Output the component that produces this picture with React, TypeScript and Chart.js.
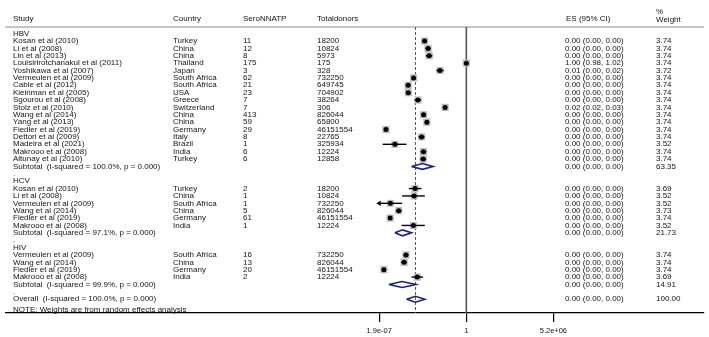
import React, { useEffect, useRef } from "react";
import { Chart, registerables } from "chart.js";
Chart.register(...registerables);

// ---------- DATA ----------
const GROUP_NAMES = ["HBV", "HCV", "HIV"];

const HBV_STUDIES = [
  "Kosan et al (2010)", "Li et al (2008)", "Lin et al (2013)", "Louisirirotchanakul et al (2011)",
  "Yoshikawa et al (2007)", "Vermeulen et al (2009)", "Cable et al (2012)", "Kleinman et al (2005)",
  "Sgourou et al (2008)", "Stolz et al (2010)", "Wang et al (2014)", "Yang et al (2013)",
  "Fiedler et al (2019)", "Dettori et al (2009)", "Madeira et al (2021)", "Makrooo et al (2008)",
  "Altunay et al (2010)",
];
const HBV_COUNTRIES = [
  "Turkey", "China", "China", "Thailand", "Japan", "South Africa", "South Africa", "USA",
  "Greece", "Switzerland", "China", "China", "Germany", "Italy", "Brazil", "India", "Turkey",
];
const HBV_SERO = [11, 12, 8, 175, 3, 62, 21, 23, 7, 7, 413, 59, 29, 8, 1, 6, 6];
const HBV_TOTAL = [18200, 10824, 5973, 175, 328, 732250, 649745, 704902, 38264, 306, 826044, 65800, 46151554, 22765, 325934, 12224, 12858];
const HBV_ES = [6.04e-4, 1.11e-3, 1.34e-3, 1.0, 9.15e-3, 8.47e-5, 3.23e-5, 3.26e-5, 1.83e-4, 2.29e-2, 5.0e-4, 8.97e-4, 6.28e-7, 3.51e-4, 3.07e-6, 4.91e-4, 4.67e-4];
const HBV_LO = [4.0e-4, 6.9e-4, 7.4e-4, 0.98, 4.9e-3, 6.6e-5, 2.1e-5, 2.2e-5, 1.0e-4, 1.6e-2, 4.5e-4, 6.9e-4, 6.1e-7, 2.0e-4, 3.5e-7, 2.9e-4, 2.8e-4];
const HBV_HI = [9.0e-4, 1.8e-3, 2.4e-3, 1.02, 1.8e-2, 1.09e-4, 4.9e-5, 4.8e-5, 3.3e-4, 3.0e-2, 5.5e-4, 1.15e-3, 6.5e-7, 6.0e-4, 2.4e-5, 8.3e-4, 7.9e-4];
const HBV_WEIGHT = [3.74, 3.74, 3.74, 3.74, 3.72, 3.74, 3.74, 3.74, 3.74, 3.74, 3.74, 3.74, 3.74, 3.74, 3.52, 3.74, 3.74];

const HCV_STUDIES = ["Kosan et al (2010)", "Li et al (2008)", "Vermeulen et al (2009)", "Wang et al (2014)", "Fiedler et al (2019)", "Makrooo et al (2008)"];
const HCV_COUNTRIES = ["Turkey", "China", "South Africa", "China", "Germany", "India"];
const HCV_SERO = [2, 1, 1, 5, 61, 1];
const HCV_TOTAL = [18200, 10824, 732250, 826044, 46151554, 12224];
const HCV_ES = [1.10e-4, 9.24e-5, 1.37e-6, 6.05e-6, 1.32e-6, 8.18e-5];
const HCV_LO = [3.65e-5, 1.11e-5, 3.0e-8, 3.6e-6, 1.2e-6, 1.0e-5];
const HCV_HI = [3.45e-4, 6.2e-4, 1.11e-5, 1.0e-5, 1.45e-6, 6.2e-4];
const HCV_WEIGHT = [3.69, 3.52, 3.52, 3.73, 3.74, 3.52];

const HIV_STUDIES = ["Vermeulen et al (2009)", "Wang et al (2014)", "Fiedler et al (2019)", "Makrooo et al (2008)"];
const HIV_COUNTRIES = ["South Africa", "China", "Germany", "India"];
const HIV_SERO = [16, 13, 20, 2];
const HIV_TOTAL = [732250, 826044, 46151554, 12224];
const HIV_ES = [2.19e-5, 1.57e-5, 4.33e-7, 1.64e-4];
const HIV_LO = [1.4e-5, 9.0e-6, 3.6e-7, 5.87e-5];
const HIV_HI = [3.4e-5, 2.6e-5, 5.2e-7, 4.59e-4];
const HIV_WEIGHT = [3.74, 3.74, 3.74, 3.69];

const SUBTOTAL_LABELS = [
  "Subtotal  (I-squared = 100.0%, p = 0.000)",
  "Subtotal  (I-squared = 97.1%, p = 0.000)",
  "Subtotal  (I-squared = 99.9%, p = 0.000)",
];
const SUBTOTAL_ES = [4.12e-4, 1.19e-5, 1.11e-5];
const SUBTOTAL_LO = [5.87e-5, 3.05e-6, 1.05e-6];
const SUBTOTAL_HI = [2.7e-3, 5.87e-5, 1.26e-4];
const SUBTOTAL_WEIGHT = [63.35, 21.73, 14.91];

const OVERALL_LABEL = "Overall  (I-squared = 100.0%, p = 0.000)";
const OVERALL_ES = 1.19e-4;
const OVERALL_LO = 2.43e-5;
const OVERALL_HI = 6.2e-4;
const OVERALL_WEIGHT = 100.0;

const NOTE_TEXT = "NOTE: Weights are from random effects analysis";

const HEADER_LABELS = ["Study", "Country", "SeroNNATP", "Totaldonors", "ES (95% CI)"];
const WEIGHT_HEADER = ["%", "Weight"];

const TICK_VALUES = [1.9e-7, 1, 5.2e6];
const TICK_LABELS = ["1.9e-07", "1", "5.2e+06"];
const AXIS_CLIP_MIN = 1.9e-7;

// ---------- LAYOUT ----------
const W = 709;
const H = 337;
const PAD_L = 4;
const PAD_R = 4;
const AXIS_H = 24;
const ONE_PX = 466.7;
const PX_PER_DECADE = 13.0;
const X_MIN = Math.pow(10, (PAD_L - ONE_PX) / PX_PER_DECADE);
const X_MAX = Math.pow(10, (W - PAD_R - ONE_PX) / PX_PER_DECADE);
const FIRST_ROW_PX = 29;
const ROW_PX = 7.5;
const Y_MIN = -FIRST_ROW_PX / ROW_PX;
const Y_MAX = (H - AXIS_H - FIRST_ROW_PX) / ROW_PX;
const COL_X = [13, 173, 243, 317, 565];
const WEIGHT_X = 656;
const FONT = "'Liberation Sans', Arial, Helvetica, sans-serif";
const TEXT_COLOR = "#141414";
const DIAMOND_HALF = 0.4;

type Row = { row: number; kind: string; cells: string[]; es?: number; lo?: number; hi?: number; w?: number };

function fmt(v: number) {
  return v.toFixed(2);
}

function buildRows(): Row[] {
  const groups = [
    { s: HBV_STUDIES, c: HBV_COUNTRIES, n: HBV_SERO, t: HBV_TOTAL, es: HBV_ES, lo: HBV_LO, hi: HBV_HI, w: HBV_WEIGHT },
    { s: HCV_STUDIES, c: HCV_COUNTRIES, n: HCV_SERO, t: HCV_TOTAL, es: HCV_ES, lo: HCV_LO, hi: HCV_HI, w: HCV_WEIGHT },
    { s: HIV_STUDIES, c: HIV_COUNTRIES, n: HIV_SERO, t: HIV_TOTAL, es: HIV_ES, lo: HIV_LO, hi: HIV_HI, w: HIV_WEIGHT },
  ];
  const rows: Row[] = [];
  let r = 0;
  groups.forEach((g, gi) => {
    rows.push({ row: r++, kind: "group", cells: [GROUP_NAMES[gi]] });
    g.s.forEach((name, i) => {
      rows.push({
        row: r++, kind: "study",
        cells: [name, g.c[i], String(g.n[i]), String(g.t[i])],
        es: g.es[i], lo: g.lo[i], hi: g.hi[i], w: g.w[i],
      });
    });
    rows.push({
      row: r++, kind: "subtotal", cells: [SUBTOTAL_LABELS[gi]],
      es: SUBTOTAL_ES[gi], lo: SUBTOTAL_LO[gi], hi: SUBTOTAL_HI[gi], w: SUBTOTAL_WEIGHT[gi],
    });
    rows.push({ row: r++, kind: "blank", cells: ["."] });
  });
  rows.push({ row: r++, kind: "overall", cells: [OVERALL_LABEL], es: OVERALL_ES, lo: OVERALL_LO, hi: OVERALL_HI, w: OVERALL_WEIGHT });
  rows.push({ row: r - 1 + 1.45, kind: "note", cells: [NOTE_TEXT] });
  return rows;
}

export default function App() {
  const ref = useRef<HTMLCanvasElement>(null);
  useEffect(() => {
    if (!ref.current) return;
    const rows = buildRows();
    const studies = rows.filter((r) => r.kind === "study");
    const pooled = rows.filter((r) => r.kind === "subtotal" || r.kind === "overall");

    const datasets: any[] = [];
    // reference lines
    datasets.push({
      data: [{ x: 1, y: -0.9 }, { x: 1, y: Y_MAX }],
      showLine: true, borderColor: "#555555", borderWidth: 1.6, pointRadius: 0, order: 10,
    });
    datasets.push({
      data: [{ x: OVERALL_ES, y: -0.9 }, { x: OVERALL_ES, y: Y_MAX }],
      showLine: true, borderColor: "#a83030", borderWidth: 1, borderDash: [3, 2], pointRadius: 0, order: 9,
    });
    // weight boxes
    datasets.push({
      data: studies.map((s) => ({ x: s.es, y: s.row })),
      pointStyle: "rect",
      pointRadius: studies.map((s) => 5.1 * Math.sqrt((s.w as number) / 3.74)),
      backgroundColor: "#bdbdbd", borderWidth: 0, order: 8,
    });
    // CI lines
    studies.forEach((s) => {
      const lo = Math.max(s.lo as number, AXIS_CLIP_MIN);
      datasets.push({
        data: [{ x: lo, y: s.row }, { x: s.hi, y: s.row }],
        showLine: true, borderColor: "#000000", borderWidth: 1.4, pointRadius: 0, order: 6,
      });
    });
    // arrows for clipped CIs
    const clipped = studies.filter((s) => (s.lo as number) < AXIS_CLIP_MIN);
    datasets.push({
      data: clipped.map((s) => ({ x: AXIS_CLIP_MIN, y: s.row })),
      pointStyle: "triangle", pointRotation: -90, pointRadius: 3,
      backgroundColor: "#000000", borderColor: "#000000", borderWidth: 0, order: 4,
    });
    // point estimates
    datasets.push({
      data: studies.map((s) => ({ x: s.es, y: s.row })),
      pointStyle: "circle", pointRadius: 2.5, backgroundColor: "#000000", borderWidth: 0, order: 3,
    });
    // diamonds
    pooled.forEach((p) => {
      datasets.push({
        data: [
          { x: p.lo, y: p.row }, { x: p.es, y: p.row - DIAMOND_HALF },
          { x: p.hi, y: p.row }, { x: p.es, y: p.row + DIAMOND_HALF }, { x: p.lo, y: p.row },
        ],
        showLine: true, borderColor: "#1b1f8a", borderWidth: 1.6, pointRadius: 0, order: 5,
        tension: 0,
      });
    });

    const textPlugin = {
      id: "forestText",
      beforeDatasetsDraw(chart: any) {
        const ctx = chart.ctx;
        const y = chart.scales.y;
        ctx.save();
        ctx.strokeStyle = "#c4c4c4";
        ctx.lineWidth = 2;
        ctx.beginPath();
        const ly = y.getPixelForValue(-0.9);
        ctx.moveTo(chart.chartArea.left, ly);
        ctx.lineTo(chart.chartArea.right, ly);
        ctx.stroke();
        ctx.restore();
      },
      afterDraw(chart: any) {
        const ctx = chart.ctx;
        const y = chart.scales.y;
        ctx.save();
        ctx.fillStyle = TEXT_COLOR;
        ctx.font = `8px ${FONT}`;
        ctx.textBaseline = "middle";
        ctx.textAlign = "left";
        const hy = y.getPixelForValue(-2);
        HEADER_LABELS.forEach((h, i) => ctx.fillText(h, COL_X[i] + (i === 4 ? 1 : 0), hy));
        ctx.fillText(WEIGHT_HEADER[0], WEIGHT_X, y.getPixelForValue(-3));
        ctx.fillText(WEIGHT_HEADER[1], WEIGHT_X, y.getPixelForValue(-1.9));
        rows.forEach((r) => {
          const py = y.getPixelForValue(r.row);
          r.cells.forEach((c, i) => ctx.fillText(c, COL_X[i], py));
          if (r.es !== undefined) {
            ctx.fillText(`${fmt(r.es)} (${fmt(r.lo as number)}, ${fmt(r.hi as number)})`, COL_X[4], py);
            ctx.fillText(fmt(r.w as number), WEIGHT_X, py);
          }
        });
        ctx.restore();
      },
    };

    const chart = new Chart(ref.current, {
      type: "scatter",
      data: { datasets },
      plugins: [textPlugin],
      options: {
        animation: false,
        responsive: false,
        events: [],
        layout: { padding: { left: PAD_L, right: PAD_R, top: 0, bottom: 0 } },
        plugins: { legend: { display: false }, tooltip: { enabled: false } },
        scales: {
          x: {
            type: "logarithmic",
            bounds: "data",
            min: X_MIN,
            max: X_MAX,
            afterBuildTicks: (scale: any) => {
              scale.ticks = TICK_VALUES.map((v) => ({ value: v }));
            },
            afterFit: (scale: any) => {
              scale.height = AXIS_H;
            },
            grid: { drawOnChartArea: false, drawTicks: true, tickLength: 9, color: "#000000", lineWidth: 1.2 },
            border: { display: true, color: "#000000", width: 1.2 },
            ticks: {
              autoSkip: false,
              maxRotation: 0,
              padding: 4,
              color: TEXT_COLOR,
              font: { family: FONT, size: 7.5 },
              callback: (_v: any, i: number) => TICK_LABELS[i],
            },
          },
          y: {
            type: "linear",
            reverse: true,
            min: Y_MIN,
            max: Y_MAX,
            display: false,
          },
        },
      } as any,
    });
    return () => chart.destroy();
  }, []);

  return (
    <div style={{ position: "absolute", left: 0, top: 0, width: W, height: H, background: "#ffffff" }}>
      <canvas ref={ref} width={W} height={H} style={{ display: "block", width: W, height: H }} />
    </div>
  );
}
